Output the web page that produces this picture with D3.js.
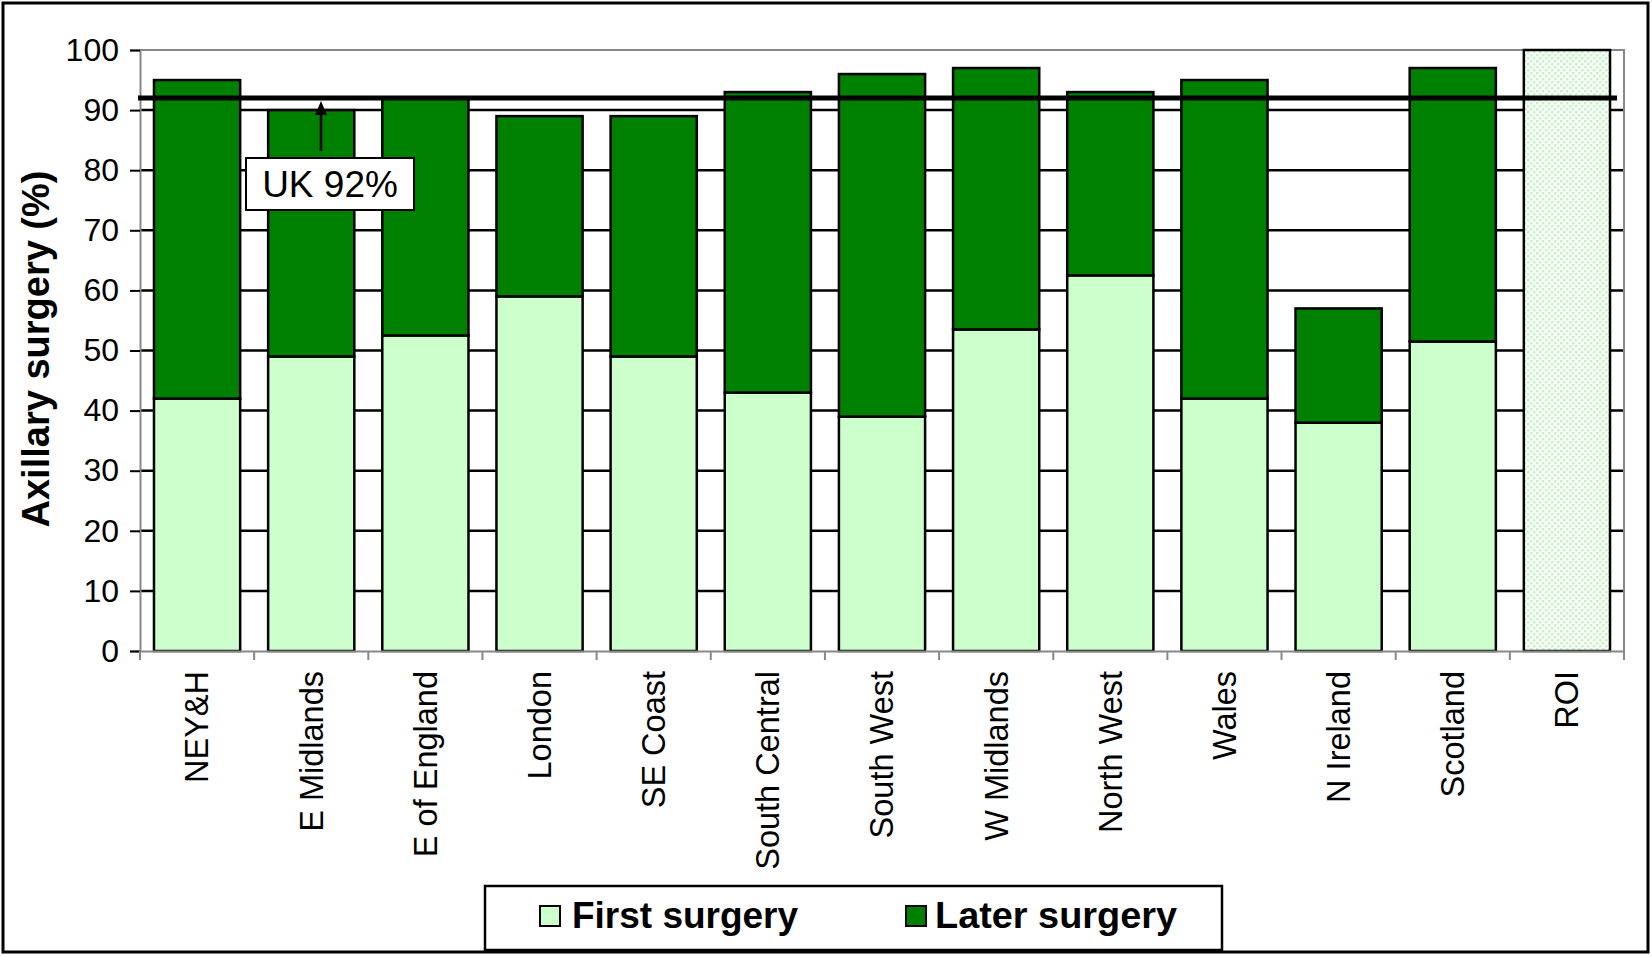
<!DOCTYPE html>
<html>
<head>
<meta charset="utf-8">
<script src="https://cdn.jsdelivr.net/npm/d3@7"></script>
<style>
  body { margin: 0; background: #fff; }
  svg { display: block; font-family: "Liberation Sans", Arial, sans-serif; }
</style>
</head>
<body>
<svg id="chart" width="1652" height="957"></svg>
<script>
var regions = ['NEY&H', 'E Midlands', 'E of England', 'London', 'SE Coast', 'South Central',
  'South West', 'W Midlands', 'North West', 'Wales', 'N Ireland', 'Scotland', 'ROI'];
var firstSurgery = [42, 49, 52.5, 59, 49, 43, 39, 53.5, 62.5, 42, 38, 51.5, null];
var totalSurgery = [95, 90, 92, 89, 89, 93, 96, 97, 93, 95, 57, 97, null];
var roiTotal = 100;
var yTicks = [0, 10, 20, 30, 40, 50, 60, 70, 80, 90, 100];
var ukAverage = 92;

var svg = d3.select('#chart');
var m = { left: 140, right: 1624, top: 50, bottom: 651 };

// pattern for the ROI bar (light green dots)
var defs = svg.append('defs');
var pat = defs.append('pattern').attr('id', 'dots')
  .attr('width', 6).attr('height', 6).attr('patternUnits', 'userSpaceOnUse');
pat.append('rect').attr('width', 6).attr('height', 6).attr('fill', '#fff');
pat.append('rect').attr('x', 0).attr('y', 0).attr('width', 2.5).attr('height', 2.5).attr('fill', '#bff5bf');
pat.append('rect').attr('x', 3).attr('y', 3).attr('width', 2.5).attr('height', 2.5).attr('fill', '#bff5bf');

var x = d3.scaleBand().domain(regions).range([m.left, m.right]).paddingInner(0.245).paddingOuter(0.1225);
var xb = d3.scaleBand().domain(regions).range([m.left, m.right]);
var y = d3.scaleLinear().domain([0, 100]).range([m.bottom, m.top]);

// outer frame
svg.append('rect').attr('x', 3).attr('y', 3).attr('width', 1645).attr('height', 949)
  .attr('fill', 'none').attr('stroke', '#000').attr('stroke-width', 3);

// gridlines
svg.append('g').selectAll('line').data(yTicks.filter(function(d) { return d > 0 && d < 100; }))
  .join('line')
  .attr('x1', m.left).attr('x2', m.right)
  .attr('y1', function(d) { return y(d); }).attr('y2', function(d) { return y(d); })
  .attr('stroke', '#000').attr('stroke-width', 2.5);

// plot frame (top / right, grey)
svg.append('path')
  .attr('d', 'M' + m.left + ',' + y(100) + 'H' + m.right + 'V' + m.bottom)
  .attr('fill', 'none').attr('stroke', '#888').attr('stroke-width', 2);

// y axis
var yAxis = svg.append('g').attr('transform', 'translate(' + m.left + ',0)')
  .call(d3.axisLeft(y).tickValues(yTicks).tickSize(10).tickPadding(11));
yAxis.select('.domain').attr('stroke', '#888').attr('stroke-width', 2);
yAxis.selectAll('.tick line').attr('stroke', '#000').attr('stroke-width', 2);
yAxis.selectAll('.tick text').attr('font-size', 32).attr('fill', '#000')
  .attr('font-family', '"Liberation Sans", Arial, sans-serif');

// bars
var rows = regions.map(function(r, i) {
  return { region: r, first: firstSurgery[i], total: totalSurgery[i] };
});
var bars = svg.append('g');
rows.forEach(function(d) {
  if (d.first == null) {
    bars.append('rect')
      .attr('x', x(d.region)).attr('width', x.bandwidth())
      .attr('y', y(roiTotal)).attr('height', y(0) - y(roiTotal))
      .attr('fill', 'url(#dots)').attr('stroke', '#000').attr('stroke-width', 2.5);
    return;
  }
  bars.append('rect')
    .attr('x', x(d.region)).attr('width', x.bandwidth())
    .attr('y', y(d.first)).attr('height', y(0) - y(d.first))
    .attr('fill', '#ccffcc').attr('stroke', '#000').attr('stroke-width', 2.5);
  bars.append('rect')
    .attr('x', x(d.region)).attr('width', x.bandwidth())
    .attr('y', y(d.total)).attr('height', y(d.first) - y(d.total))
    .attr('fill', '#008000').attr('stroke', '#000').attr('stroke-width', 2.5);
});

// x axis
var xAxis = svg.append('g').attr('transform', 'translate(0,' + m.bottom + ')')
  .call(d3.axisBottom(xb).tickSize(0).tickPadding(0));
xAxis.select('.domain').attr('stroke', '#888').attr('stroke-width', 2);
xAxis.selectAll('.tick text')
  .attr('font-size', 32.5).attr('fill', '#000')
  .attr('font-family', '"Liberation Sans", Arial, sans-serif')
  .attr('text-anchor', 'end').attr('dy', '0.35em')
  .attr('transform', 'translate(0,20) rotate(-90)');
svg.append('g').selectAll('line').data(d3.range(regions.length + 1))
  .join('line')
  .attr('x1', function(i) { return m.left + i * xb.step(); })
  .attr('x2', function(i) { return m.left + i * xb.step(); })
  .attr('y1', m.bottom).attr('y2', m.bottom + 9)
  .attr('stroke', '#888').attr('stroke-width', 2);

// UK average line
svg.append('line')
  .attr('x1', m.left - 2).attr('x2', 1617)
  .attr('y1', y(ukAverage)).attr('y2', y(ukAverage))
  .attr('stroke', '#000').attr('stroke-width', 5);

// UK label with arrow
var ax = 321;
svg.append('line').attr('x1', ax).attr('x2', ax).attr('y1', 151).attr('y2', y(ukAverage) + 14)
  .attr('stroke', '#000').attr('stroke-width', 2.5);
svg.append('path')
  .attr('d', 'M' + ax + ',' + (y(ukAverage) + 3) + 'L' + (ax - 6) + ',' + (y(ukAverage) + 17) + 'L' + (ax + 6) + ',' + (y(ukAverage) + 17) + 'Z')
  .attr('fill', '#000');
svg.append('rect').attr('x', 246).attr('y', 158).attr('width', 168).attr('height', 52)
  .attr('fill', '#fff').attr('stroke', '#000').attr('stroke-width', 2);
svg.append('text').attr('x', 330).attr('y', 197).attr('text-anchor', 'middle')
  .attr('font-size', 37).text('UK ' + ukAverage + '%');

// y axis title
svg.append('text')
  .attr('transform', 'translate(49,' + 349 + ') rotate(-90)')
  .attr('text-anchor', 'middle').attr('font-size', 38).attr('font-weight', 'bold')
  .text('Axillary surgery (%)');

// legend
var legend = svg.append('g');
legend.append('rect').attr('x', 485).attr('y', 886).attr('width', 737).attr('height', 64)
  .attr('fill', '#fff').attr('stroke', '#000').attr('stroke-width', 2.5);
var items = [
  { label: 'First surgery', color: '#ccffcc', sx: 540, tx: 572, len: 226 },
  { label: 'Later surgery', color: '#008000', sx: 906, tx: 935, len: 242 }
];
items.forEach(function(it) {
  legend.append('rect').attr('x', it.sx).attr('y', 906).attr('width', 20).attr('height', 20)
    .attr('fill', it.color).attr('stroke', '#000').attr('stroke-width', 2);
  legend.append('text').attr('x', it.tx).attr('y', 928)
    .attr('font-size', 36).attr('font-weight', 'bold')
    .attr('font-family', '"Liberation Sans Narrow", "Liberation Sans", Arial, sans-serif')
    .attr('textLength', it.len).attr('lengthAdjust', 'spacingAndGlyphs')
    .text(it.label);
});
</script>
</body>
</html>
